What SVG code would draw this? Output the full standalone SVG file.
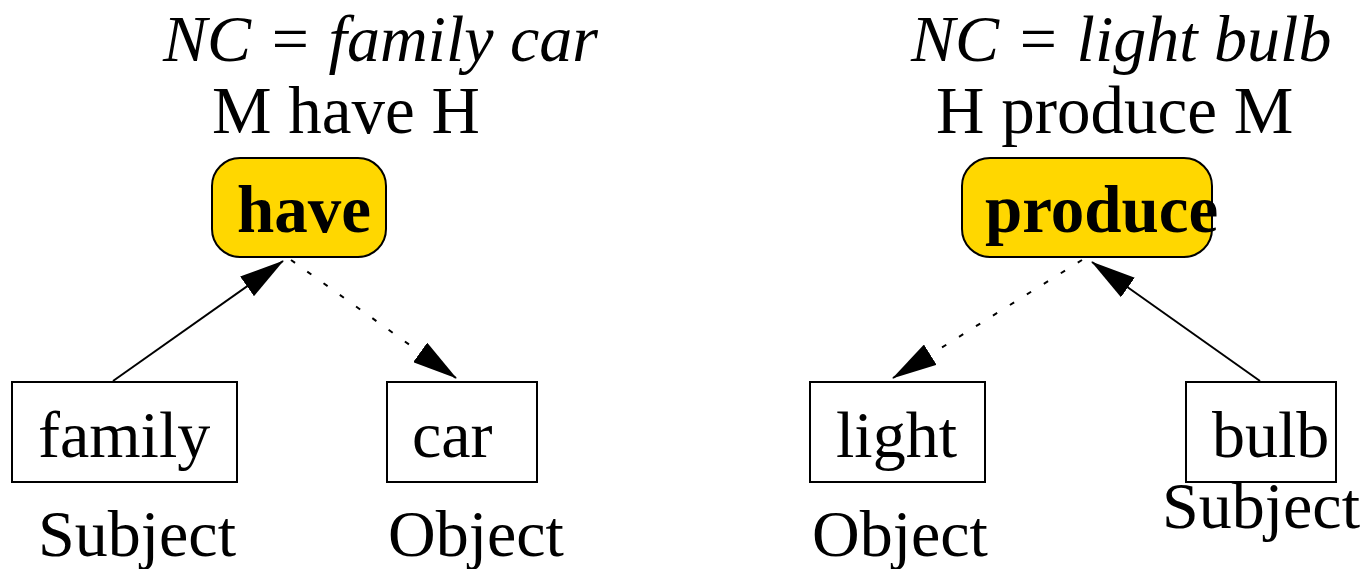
<svg xmlns="http://www.w3.org/2000/svg" width="1368" height="569" viewBox="0 0 1368 569">
  <style>
    text { font-family: "Liberation Serif", "Times New Roman", serif; font-size: 66px; fill: #000; }
    .title { font-style: italic; font-size: 66px; }
    .head { font-size: 67px; }
    .verb { font-weight: bold; font-size: 67px; }
    .pred { fill: #ffd700; stroke: #000; stroke-width: 2; }
    .word { fill: #fff; stroke: #000; stroke-width: 2; }
    .edge { fill: none; stroke: #000; stroke-width: 2; }
    .dashed { stroke-dasharray: 5 15; }
  </style>
  <defs>
    <marker id="arrow" markerUnits="userSpaceOnUse" viewBox="0 0 45 24" markerWidth="45" markerHeight="24" refX="44" refY="12" orient="auto">
      <path d="M0,0 L45,12 L0,24 Z" fill="#000"/>
    </marker>
  </defs>
  <rect width="1368" height="569" fill="#fff"/>

  <g id="labels-left">
    <text class="title" x="163" y="61">NC = family car</text>
    <text class="head" x="212" y="133">M have H</text>
    <text x="38" y="556">Subject</text>
    <text x="388" y="556">Object</text>
  </g>
  <g id="labels-right">
    <text class="title" x="911" y="61">NC = light bulb</text>
    <text class="head" x="936" y="133">H produce M</text>
    <text x="812" y="556">Object</text>
    <text x="1162" y="528">Subject</text>
  </g>

  <g id="connectors">
    <line class="edge" x1="113" y1="381" x2="283" y2="261" marker-end="url(#arrow)"/>
    <line class="edge dashed" x1="291" y1="260" x2="456" y2="378" marker-end="url(#arrow)"/>
    <line class="edge dashed" x1="1082" y1="260" x2="893" y2="378" marker-end="url(#arrow)"/>
    <line class="edge" x1="1260" y1="381" x2="1092" y2="262" marker-end="url(#arrow)"/>
  </g>

  <g id="node-have">
    <rect class="pred" x="212" y="158" width="174" height="99" rx="28" ry="28"/>
    <text class="verb" x="237" y="232">have</text>
  </g>
  <g id="node-produce">
    <rect class="pred" x="962" y="158" width="250" height="99" rx="28" ry="28"/>
    <text class="verb" x="985" y="232">produce</text>
  </g>
  <g id="node-family">
    <rect class="word" x="12" y="382" width="225" height="100"/>
    <text x="38" y="457">family</text>
  </g>
  <g id="node-car">
    <rect class="word" x="387" y="382" width="150" height="100"/>
    <text x="412" y="457">car</text>
  </g>
  <g id="node-light">
    <rect class="word" x="810" y="382" width="175" height="100"/>
    <text x="836" y="457">light</text>
  </g>
  <g id="node-bulb">
    <rect class="word" x="1186" y="382" width="150" height="100"/>
    <text x="1212" y="457">bulb</text>
  </g>
</svg>
